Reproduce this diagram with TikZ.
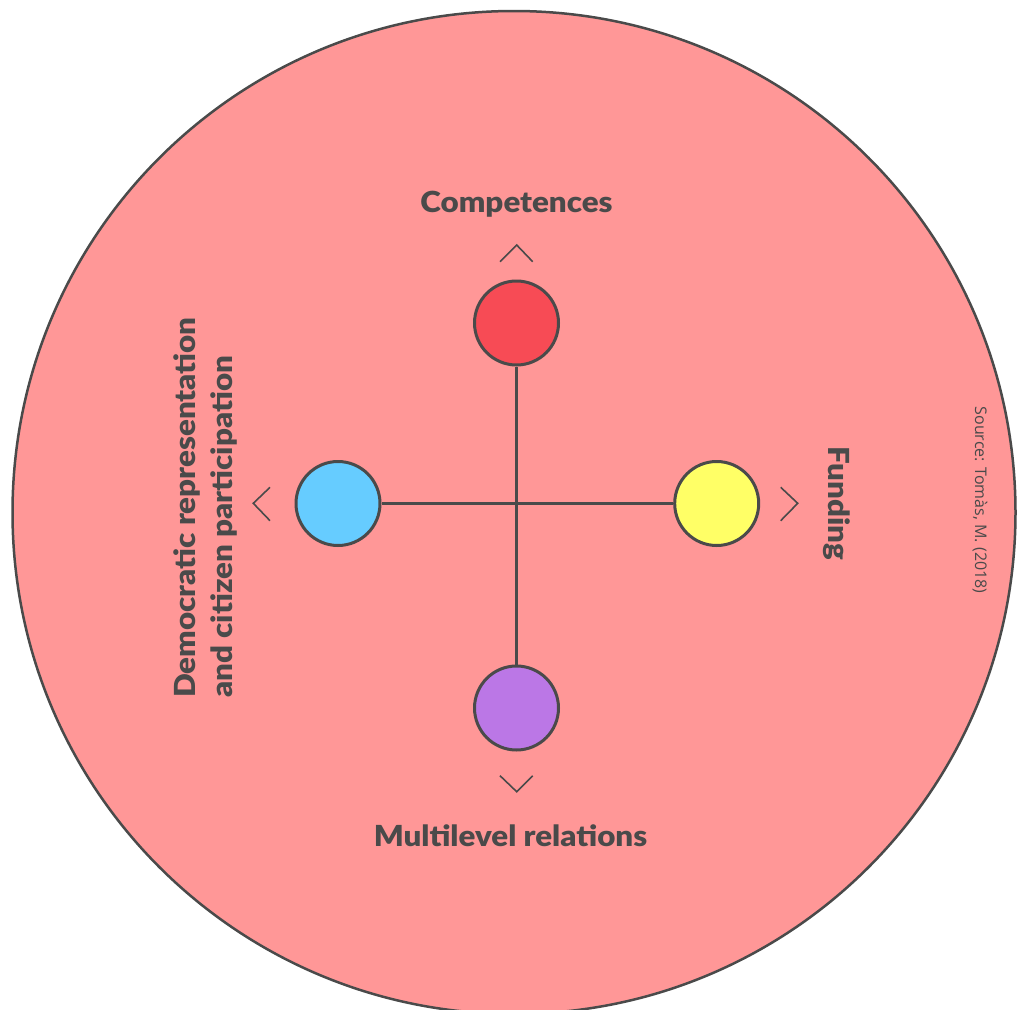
\documentclass[tikz,border=0pt]{standalone}
\usepackage{fontspec}
\setmainfont{Lato}
\newfontfamily\headfont{Lato Black}[FakeStretch=1.08]
\newfontfamily\srcfont{Open Sans}
\usetikzlibrary{positioning}
\definecolor{Ink}{HTML}{4A4A4A}
\definecolor{Rose}{HTML}{FF9797}
\definecolor{Red}{HTML}{F74B55}
\definecolor{Sky}{HTML}{66CCFF}
\definecolor{Lemon}{HTML}{FFFF66}
\definecolor{Lilac}{HTML}{BB77E6}
\begin{document}
\begin{tikzpicture}[x=1pt,y=-1pt,
  dot/.style={circle,draw=Ink,line width=3pt,minimum size=84pt,inner sep=0pt},
  axis/.style={draw=Ink,line width=2.5pt},
  chev/.style={draw=Ink,line width=1.6pt},
  lbl/.style={text=Ink,font=\headfont\fontsize{29}{36.7}\selectfont,inner sep=0pt}
]
\clip (0,0) rectangle (1021,1010);
\draw[Ink,fill=Rose,line width=2.5pt] (514,512.5) circle (501.5);
\node[dot,fill=Red] (comp) at (516.5,323) {};
\node[dot,fill=Lilac] (multi) at (516.5,708) {};
\node[dot,fill=Sky] (demo) at (338,503.5) {};
\node[dot,fill=Lemon] (fund) at (716.7,503.5) {};
\draw[axis] (comp) -- (multi);
\draw[axis] (demo) -- (fund);
\draw[chev] (500,261.7) -- (516.7,245) -- (532.7,261.7);
\draw[chev] (500,775.7) -- (516.7,791.7) -- (532.7,775.7);
\draw[chev] (270,487.3) -- (253.3,503.3) -- (270,520.7);
\draw[chev] (780.7,487.3) -- (797.7,503.3) -- (780.7,520.7);
\node[lbl,anchor=base] (compl) at (516.5,212) {Competences};
\node[lbl,anchor=base] (multil) at (510.5,846.7) {Multilevel relations};
\node[lbl,anchor=base,rotate=-90] (fundl) at (828.3,503.3) {Funding};
\node[lbl,anchor=north west,rotate=90,align=left] (demol) at (173.3,698) {Democratic representation\\and citizen participation};
\node[text=Ink,font=\srcfont\fontsize{16}{18}\selectfont,inner sep=0pt,anchor=base,rotate=-90] (src) at (975,500) {Source: Tomàs, M. (2018)};
\end{tikzpicture}
\end{document}
